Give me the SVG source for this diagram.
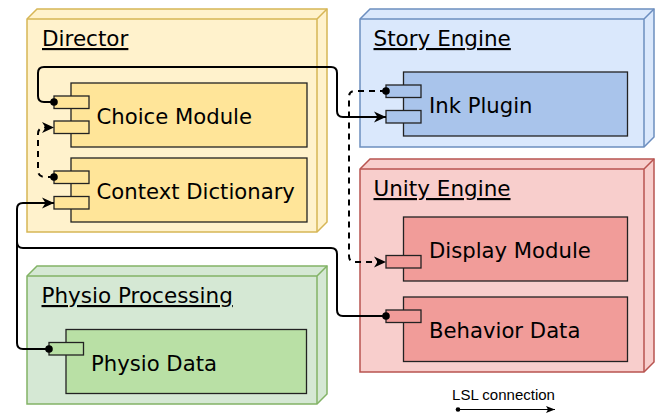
<svg xmlns="http://www.w3.org/2000/svg" width="660" height="414" viewBox="0 0 660 414">
<style>
.hd{font-family:"DejaVu Sans",Verdana,sans-serif;font-size:21.5px;fill:#000;text-decoration:underline}
.lb{font-family:"DejaVu Sans",Verdana,sans-serif;font-size:21.2px;fill:#000}
.box{stroke:#222;stroke-width:1.3}
.y3{fill:#fff2cc;stroke:#d6b656;stroke-width:1.5}
.b3{fill:#dae8fc;stroke:#6c8ebf;stroke-width:1.5}
.r3{fill:#f8cecc;stroke:#b85450;stroke-width:1.5}
.g3{fill:#d5e8d4;stroke:#82b366;stroke-width:1.5}
.ln{fill:none;stroke:#000;stroke-width:2}
.ln3{fill:none;stroke-width:1.5}
.dash{stroke-dasharray:6 5}
</style>
<defs>
<marker id="arr" markerUnits="userSpaceOnUse" markerWidth="13" markerHeight="12" refX="12" refY="6" orient="auto">
<path d="M0,0.5 L12,6 L0,11.5 L3.5,6 Z" fill="#000"/>
</marker>
<marker id="dot" markerUnits="userSpaceOnUse" markerWidth="10" markerHeight="10" refX="5" refY="5" orient="auto">
<circle cx="5" cy="5" r="3.8" fill="#000"/>
</marker>
<marker id="arrS" markerUnits="userSpaceOnUse" markerWidth="10" markerHeight="8" refX="9" refY="4" orient="auto">
<path d="M0,0.5 L9,4 L0,7.5 L2,4 Z" fill="#000"/>
</marker>
<marker id="dotS" markerUnits="userSpaceOnUse" markerWidth="6" markerHeight="6" refX="3" refY="3" orient="auto">
<circle cx="3" cy="3" r="2.3" fill="#000"/>
</marker>
</defs>

<g id="director">
<path class="y3" d="M27,19 L37,9 L327,9 L327,222 L317,232 L27,232 Z"/>
<path class="ln3" stroke="#d6b656" d="M27,19 L317,19 L327,9 M317,19 L317,232"/>
<text class="hd" x="42" y="46">Director</text>
</g>
<g id="choice-module">
<rect class="box" x="71" y="83" width="236" height="64" fill="#ffe599"/>
<rect class="box" x="54" y="96" width="35" height="12.5" fill="#ffe599"/>
<rect class="box" x="54" y="121" width="35" height="12.5" fill="#ffe599"/>
<text class="lb" x="96.5" y="124">Choice Module</text>
</g>
<g id="context-dictionary">
<rect class="box" x="71" y="158" width="236" height="64" fill="#ffe599"/>
<rect class="box" x="54" y="171" width="35" height="12.5" fill="#ffe599"/>
<rect class="box" x="54" y="196.5" width="35" height="12.5" fill="#ffe599"/>
<text class="lb" x="96.5" y="199">Context Dictionary</text>
</g>

<g id="story-engine">
<path class="b3" d="M360,19 L370,9 L654,9 L654,137 L644,147 L360,147 Z"/>
<path class="ln3" stroke="#6c8ebf" d="M360,19 L644,19 L654,9 M644,19 L644,147"/>
<text class="hd" x="373.5" y="46">Story Engine</text>
</g>
<g id="ink-plugin">
<rect class="box" x="403.5" y="72" width="224" height="64" fill="#a9c4eb"/>
<rect class="box" x="386" y="85" width="35" height="12.5" fill="#a9c4eb"/>
<rect class="box" x="386" y="110.5" width="35" height="12.5" fill="#a9c4eb"/>
<text class="lb" x="429" y="113">Ink Plugin</text>
</g>

<g id="unity-engine">
<path class="r3" d="M360,169 L370,159 L654,159 L654,362 L644,372 L360,372 Z"/>
<path class="ln3" stroke="#b85450" d="M360,169 L644,169 L654,159 M644,169 L644,372"/>
<text class="hd" x="373.5" y="196">Unity Engine</text>
</g>
<g id="display-module">
<rect class="box" x="403.5" y="217" width="224" height="64" fill="#f19c99"/>
<rect class="box" x="386" y="255.5" width="35" height="12.5" fill="#f19c99"/>
<text class="lb" x="429" y="258">Display Module</text>
</g>
<g id="behavior-data">
<rect class="box" x="403.5" y="297" width="224" height="64.5" fill="#f19c99"/>
<rect class="box" x="386" y="310" width="35" height="12.5" fill="#f19c99"/>
<text class="lb" x="429" y="338">Behavior Data</text>
</g>

<g id="physio-processing">
<path class="g3" d="M27,276 L37,266 L327,266 L327,394 L317,404 L27,404 Z"/>
<path class="ln3" stroke="#82b366" d="M27,276 L317,276 L327,266 M317,276 L317,404"/>
<text class="hd" x="41.5" y="303">Physio Processing</text>
</g>
<g id="physio-data">
<rect class="box" x="66" y="329.5" width="240.5" height="64" fill="#b9e0a5"/>
<rect class="box" x="49" y="342.5" width="34.5" height="12.5" fill="#b9e0a5"/>
<text class="lb" x="91" y="370.5">Physio Data</text>
</g>

<g id="connectors">
<path class="ln" marker-start="url(#dot)" marker-end="url(#arr)" d="M54,102 L44,102 Q38,102 38,96 L38,73 Q38,67 44,67 L331,67 Q337,67 337,73 L337,111 Q337,117 343,117 L386,117"/>
<path class="ln dash" marker-start="url(#dot)" marker-end="url(#arr)" d="M54,177 L45,177 Q38,177 38,170 L38,134 Q38,127.5 45,127.5 L54,127.5"/>
<path class="ln dash" marker-start="url(#dot)" marker-end="url(#arr)" d="M386,91 L355,91 Q349,91 349,97 L349,256 Q349,262 355,262 L386,262"/>
<path class="ln" marker-start="url(#dot)" marker-end="url(#arr)" d="M49,349 L23,349 Q17,349 17,343 L17,209 Q17,203 23,203 L54,203"/>
<path class="ln" marker-start="url(#dot)" d="M386,316 L343,316 Q337,316 337,310 L337,254 Q337,248 331,248 L23,248 Q17,248 17,242 L17,209"/>
<path fill="none" stroke="#000" stroke-width="1" marker-start="url(#dotS)" marker-end="url(#arrS)" d="M458,409.5 L555,409.5"/>
</g>
<text x="503.5" y="400" text-anchor="middle" font-family="'Liberation Sans',Arial,sans-serif" font-size="15" fill="#000">LSL connection</text>
</svg>
